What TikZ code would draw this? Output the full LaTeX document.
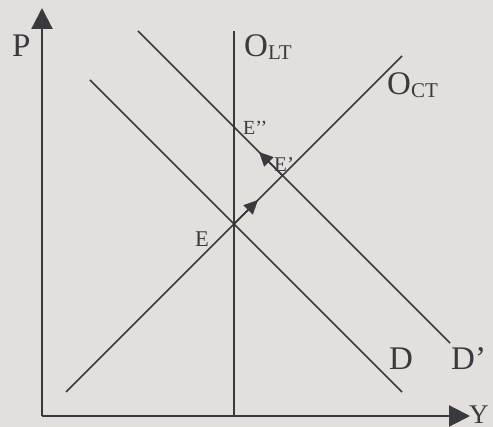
\documentclass[tikz,border=0pt]{standalone}
\usepackage{fontspec}
\setmainfont{Liberation Serif}
\usetikzlibrary{arrows.meta}

\definecolor{paper}{HTML}{E3DFDC}
\definecolor{ink}{HTML}{3A393D}

\tikzstyle{axis} = [draw = ink, line width = 2.2pt, -{Triangle[length = 21pt, width = 21pt]}]
\tikzstyle{curve} = [draw = ink, line width = 1.7pt]
\tikzstyle{move} = [draw = ink, line width = 1.7pt, -{Triangle[length = 14pt, width = 13pt]}]
\tikzstyle{big} = [text = ink, inner sep = 0pt, anchor = base west, font = \fontsize{33}{33}\selectfont]
\tikzstyle{small} = [text = ink, inner sep = 0pt, anchor = base west, font = \fontsize{21}{21}\selectfont]
\newcommand{\sublbl}[1]{\raisebox{-3pt}{\fontsize{21}{21}\selectfont #1}}

\begin{document}
\begin{tikzpicture}[x = 1pt, y = -1pt]
		\fill [paper] (0, 0) rectangle (493, 427);
		\useasboundingbox (0, 0) rectangle (493, 427);

		% axes
		\coordinate (origin) at (42, 416);
		\coordinate (ptop) at (42, 8);
		\coordinate (yend) at (470, 416);
		\draw [axis] (origin) -- (ptop);
		\draw [axis] (origin) -- (yend);

		% long-run supply, short-run supply, demand
		\coordinate (olttop) at (234, 31);
		\coordinate (oltbot) at (234, 416);
		\coordinate (octbot) at (66, 392);
		\coordinate (octtop) at (402, 56);
		\coordinate (dtop) at (90, 80);
		\coordinate (dbot) at (402, 392);
		\coordinate (dptop) at (138, 31);
		\coordinate (dpbot) at (450, 343);
		\draw [curve] (oltbot) -- (olttop);
		\draw [curve] (octbot) -- (octtop);
		\draw [curve] (dtop) -- (dbot);
		\draw [curve] (dptop) -- (dpbot);

		% equilibria and moves
		\coordinate (E) at (234, 224);
		\coordinate (E1) at (282.5, 175.5);
		\coordinate (tip1) at (258, 200);
		\coordinate (tip2) at (259, 152);
		\draw [move] (E) -- (tip1);
		\draw [move] (E1) -- (tip2);

		% labels
		\node [big] at (12, 57) (plbl) {P};
		\node [big, font = \fontsize{27}{27}\selectfont] at (469, 424) (ylbl) {Y};
		\node [big] at (244, 57) (oltlbl) {O\sublbl{LT}};
		\node [big] at (387, 95) (octlbl) {O\sublbl{CT}};
		\node [big] at (389, 370) (dlbl) {D};
		\node [big] at (451, 370) (dplbl) {D’};
		\node [small, font = \fontsize{22.5}{22.5}\selectfont] at (195, 247) (elbl) {E};
		\node [small, font = \fontsize{20}{20}\selectfont] at (243, 135) (e2lbl) {E’’};
		\node [small] at (274, 172) (e1lbl) {E’};
	\end{tikzpicture}
\end{document}
